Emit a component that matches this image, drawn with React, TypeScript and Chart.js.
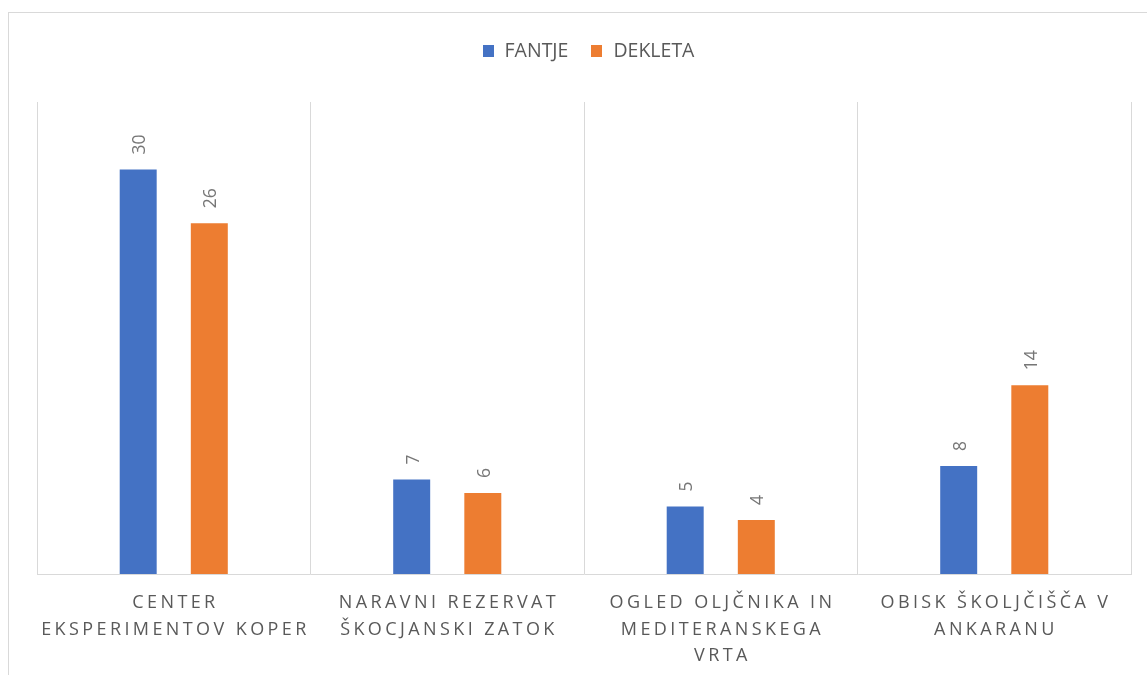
import React, { useEffect, useRef } from 'react';
import { Chart, registerables } from 'chart.js';

Chart.register(...registerables);

// ---- data ----
const categories: string[][] = [
  ['CENTER', 'EKSPERIMENTOV KOPER'],
  ['NARAVNI REZERVAT', 'ŠKOCJANSKI ZATOK'],
  ['OGLED OLJČNIKA IN', 'MEDITERANSKEGA', 'VRTA'],
  ['OBISK ŠKOLJČIŠČA V', 'ANKARANU'],
];
const fantje = [30, 7, 5, 8];
const dekleta = [26, 6, 4, 14];
const seriesNames = ['FANTJE', 'DEKLETA'];
const seriesColors = ['#4472C4', '#ED7D31'];
const yMin = 0;
const yMax = 35;

const FONT = '"Open Sans", "Noto Sans", sans-serif';
const TEXT_COLOR = '#595959';
const GRID_COLOR = '#D9D9D9';

const framePlugin = {
  id: 'frame',
  beforeDraw(chart: any) {
    const ctx = chart.ctx;
    ctx.save();
    ctx.fillStyle = '#ffffff';
    ctx.fillRect(0, 0, chart.width, chart.height);
    ctx.strokeStyle = GRID_COLOR;
    ctx.lineWidth = 1;
    ctx.strokeRect(8.5, 12.5, chart.width + 20, chart.height + 20);
    ctx.restore();
  },
};

const legendPlugin = {
  id: 'customLegend',
  afterDraw(chart: any) {
    const ctx = chart.ctx;
    const fontSize = 19.5;
    const boxW = 11;
    const boxH = 12;
    const boxGap = 11;
    const itemGap = 23;
    const cy = 51;
    ctx.save();
    ctx.font = `${fontSize}px ${FONT}`;
    ctx.textBaseline = 'middle';
    ctx.textAlign = 'left';
    const items = chart.data.datasets.map((ds: any) => ({
      text: ds.label,
      color: ds.backgroundColor,
      w: ctx.measureText(ds.label).width,
    }));
    const total = items.reduce((a: number, it: any) => a + boxW + boxGap + it.w, 0) + itemGap * (items.length - 1);
    const center = (chart.chartArea.left + chart.chartArea.right) / 2 + 4.5;
    let x = center - total / 2;
    items.forEach((it: any) => {
      ctx.fillStyle = it.color;
      ctx.fillRect(Math.round(x), Math.round(cy - boxH / 2), boxW, boxH);
      ctx.fillStyle = TEXT_COLOR;
      ctx.fillText(it.text, x + boxW + boxGap, cy);
      x += boxW + boxGap + it.w + itemGap;
    });
    ctx.restore();
  },
};

const dataLabelPlugin = {
  id: 'dataLabels',
  afterDatasetsDraw(chart: any) {
    const ctx = chart.ctx;
    ctx.save();
    ctx.font = `17.5px ${FONT}`;
    ctx.fillStyle = '#767676';
    chart.data.datasets.forEach((ds: any, di: number) => {
      const meta = chart.getDatasetMeta(di);
      meta.data.forEach((el: any, i: number) => {
        ctx.save();
        ctx.translate(el.x + 2, el.y - 15);
        ctx.rotate(-Math.PI / 2);
        ctx.textAlign = 'left';
        ctx.textBaseline = 'middle';
        ctx.fillText(String(ds.data[i]), 0, 0);
        ctx.restore();
      });
    });
    ctx.restore();
  },
};

function drawSpaced(ctx: CanvasRenderingContext2D, text: string, cx: number, y: number, spacing: number) {
  const chars = Array.from(text);
  const widths = chars.map((c) => ctx.measureText(c).width);
  const total = widths.reduce((a, b) => a + b, 0) + spacing * (chars.length - 1);
  let x = cx - total / 2;
  chars.forEach((c, i) => {
    ctx.fillText(c, x, y);
    x += widths[i] + spacing;
  });
}

const xLabelPlugin = {
  id: 'xLabels',
  afterDraw(chart: any) {
    const ctx = chart.ctx;
    const xs = chart.scales.x;
    const bottom = chart.chartArea.bottom;
    ctx.save();
    ctx.font = `18px ${FONT}`;
    ctx.fillStyle = TEXT_COLOR;
    ctx.textAlign = 'left';
    ctx.textBaseline = 'middle';
    (chart.data.labels as string[][]).forEach((lines, i) => {
      const cx = xs.getPixelForValue(i);
      lines.forEach((line, k) => {
        drawSpaced(ctx, line, cx, bottom + 29 + k * 26.5, 3.4);
      });
    });
    ctx.restore();
  },
};

export default function App() {
  const canvasRef = useRef<HTMLCanvasElement | null>(null);

  useEffect(() => {
    document.body.style.margin = '0';
    const canvas = canvasRef.current;
    if (!canvas) return;
    const chart = new Chart(canvas, {
      type: 'bar',
      data: {
        labels: categories as any,
        datasets: [
          {
            label: seriesNames[0],
            data: fantje,
            backgroundColor: seriesColors[0],
            borderWidth: 0,
            barPercentage: 0.52,
            categoryPercentage: 0.52,
          },
          {
            label: seriesNames[1],
            data: dekleta,
            backgroundColor: seriesColors[1],
            borderWidth: 0,
            barPercentage: 0.52,
            categoryPercentage: 0.52,
          },
        ],
      },
      options: {
        animation: false,
        responsive: false,
        devicePixelRatio: 1,
        layout: { padding: { top: 102, left: 37, right: 16, bottom: 0 } },
        plugins: {
          legend: { display: false },
          tooltip: { enabled: false },
          title: { display: false },
        },
        scales: {
          x: {
            grid: { display: true, color: GRID_COLOR, drawTicks: false, offset: true, lineWidth: 1 },
            border: { display: true, color: GRID_COLOR },
            ticks: { display: false },
            afterFit: (s: any) => {
              s.height = 101;
            },
          },
          y: {
            display: false,
            min: yMin,
            max: yMax,
          },
        },
      },
      plugins: [framePlugin, dataLabelPlugin, xLabelPlugin, legendPlugin],
    });
    return () => chart.destroy();
  }, []);

  return (
    <div style={{ position: 'absolute', left: 0, top: 0, width: 1147, height: 675 }}>
      <canvas ref={canvasRef} width={1147} height={675} style={{ width: 1147, height: 675, display: 'block' }} />
    </div>
  );
}
